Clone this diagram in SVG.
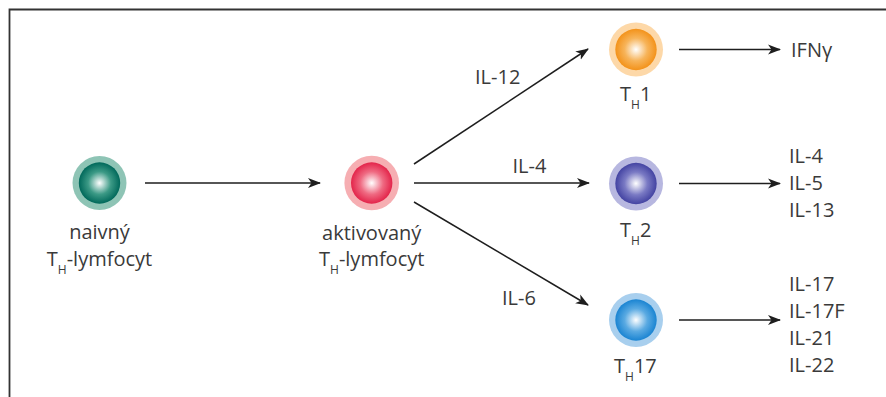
<svg xmlns="http://www.w3.org/2000/svg" width="886" height="397" viewBox="0 0 886 397">
<style>
text{font-family:"Open Sans","Noto Sans","Liberation Sans",sans-serif;font-size:20px;fill:#3a3a3a}
.sub{font-size:12px}
.ln{stroke:#1e1e1e;stroke-width:1.5;fill:none;marker-end:url(#ah)}
</style>
<defs>
<marker id="ah" markerWidth="14" markerHeight="12" refX="12" refY="5" orient="auto" markerUnits="userSpaceOnUse" viewBox="0 0 14 10">
<path d="M0,0 L13,5 L0,10 L3.5,5 z" fill="#1e1e1e"/>
</marker>
<radialGradient id="gN" cx="50%" cy="50%" r="50%"><stop offset="0" stop-color="#ffffff"/><stop offset="0.55" stop-color="#3c9a86"/><stop offset="1" stop-color="#00685a"/></radialGradient>
<radialGradient id="gA" cx="50%" cy="50%" r="50%"><stop offset="0" stop-color="#ffffff"/><stop offset="0.55" stop-color="#ef6a82"/><stop offset="1" stop-color="#e3244a"/></radialGradient>
<radialGradient id="g1" cx="50%" cy="50%" r="50%"><stop offset="0" stop-color="#ffffff"/><stop offset="0.55" stop-color="#f7b45a"/><stop offset="1" stop-color="#f3921a"/></radialGradient>
<radialGradient id="g2" cx="50%" cy="50%" r="50%"><stop offset="0" stop-color="#ffffff"/><stop offset="0.55" stop-color="#7a7ac4"/><stop offset="1" stop-color="#4343a2"/></radialGradient>
<radialGradient id="g17" cx="50%" cy="50%" r="50%"><stop offset="0" stop-color="#ffffff"/><stop offset="0.55" stop-color="#5aaae2"/><stop offset="1" stop-color="#1a84d2"/></radialGradient>
</defs>
<rect width="886" height="397" fill="#ffffff"/>
<path d="M9.5,397 V9.5 H886" stroke="#333" stroke-width="1.8" fill="none"/>

<g id="naive">
<circle cx="99.5" cy="183" r="27" fill="#8ec4b5"/>
<circle cx="99.5" cy="183" r="20.7" fill="url(#gN)"/>
<text x="99.5" y="239" text-anchor="middle">naivný</text>
<text x="99.5" y="266" text-anchor="middle">T<tspan class="sub" dy="8">H</tspan><tspan dy="-8">-lymfocyt</tspan></text>
</g>

<g id="active">
<circle cx="371.7" cy="183" r="27.3" fill="#f6aeb2"/>
<circle cx="371.7" cy="183" r="20.7" fill="url(#gA)"/>
<text x="371.7" y="240" text-anchor="middle">aktivovaný</text>
<text x="371.7" y="266" text-anchor="middle">T<tspan class="sub" dy="8">H</tspan><tspan dy="-8">-lymfocyt</tspan></text>
</g>

<g id="th1">
<circle cx="636" cy="49.5" r="27" fill="#fdd8a8"/>
<circle cx="636" cy="49.5" r="20.7" fill="url(#g1)"/>
<text x="620" y="101">T<tspan class="sub" dy="8">H</tspan><tspan dy="-8">1</tspan></text>
</g>

<g id="th2">
<circle cx="636" cy="183.5" r="27" fill="#b7b7e0"/>
<circle cx="636" cy="183.5" r="20.7" fill="url(#g2)"/>
<text x="620" y="237">T<tspan class="sub" dy="8">H</tspan><tspan dy="-8">2</tspan></text>
</g>

<g id="th17">
<circle cx="636" cy="320" r="27" fill="#a8cfee"/>
<circle cx="636" cy="320" r="20.7" fill="url(#g17)"/>
<text x="614" y="373">T<tspan class="sub" dy="8">H</tspan><tspan dy="-8">17</tspan></text>
</g>

<g id="out1">
<text x="791" y="57">IFNγ</text>
</g>
<g id="out2">
<text x="789" y="163">IL-4</text>
<text x="789" y="190">IL-5</text>
<text x="789" y="217">IL-13</text>
</g>
<g id="out17">
<text x="789" y="291">IL-17</text>
<text x="789" y="318">IL-17F</text>
<text x="789" y="345">IL-21</text>
<text x="789" y="372">IL-22</text>
</g>

<g id="connectors">
<line class="ln" x1="145" y1="183" x2="320" y2="183"/>
<line class="ln" x1="414" y1="164" x2="588" y2="49"/>
<line class="ln" x1="414" y1="183" x2="589" y2="183"/>
<line class="ln" x1="414" y1="202" x2="588" y2="305"/>
<line class="ln" x1="679" y1="49.5" x2="780" y2="49.5"/>
<line class="ln" x1="679" y1="183.5" x2="780" y2="183.5"/>
<line class="ln" x1="679" y1="320" x2="780" y2="320"/>
<text x="475" y="84">IL-12</text>
<text x="512.5" y="173">IL-4</text>
<text x="502" y="305">IL-6</text>
</g>
</svg>
